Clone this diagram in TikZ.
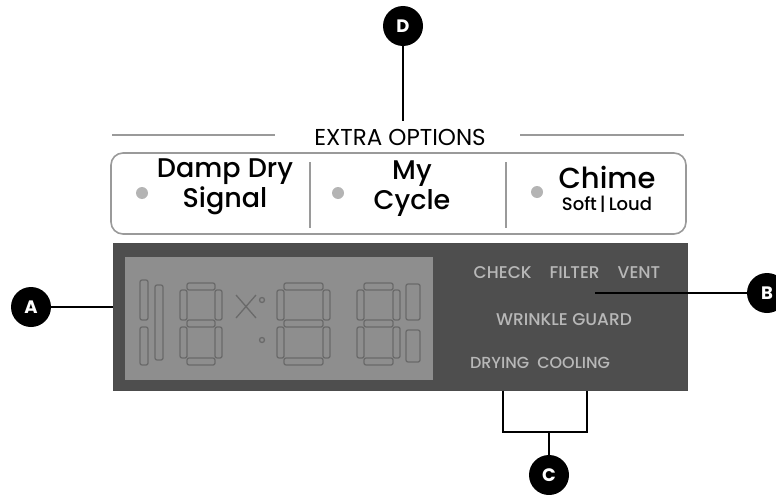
\documentclass[tikz,border=0pt]{standalone}
\usepackage{fontspec}
\setmainfont{Poppins}
\newfontfamily\popmed{Poppins Medium}
\usetikzlibrary{positioning}

\definecolor{rulegray}{HTML}{9A9A9A}
\definecolor{dotgray}{HTML}{B4B4B4}
\definecolor{panelgray}{HTML}{4E4E4E}
\definecolor{lcdgray}{HTML}{8E8E8E}
\definecolor{seggray}{HTML}{6A6A6A}
\definecolor{glowgray}{HTML}{B8B8B8}

\begin{document}
\begin{tikzpicture}[x=1pt, y=-1pt,
    callout/.style={circle,fill=black,text=white,minimum size=40pt,inner sep=0pt,font=\fontsize{18}{18}\selectfont\bfseries},
    lead/.style={draw=black,line width=1.4pt},
    optext/.style={align=center,inner sep=0pt,font=\popmed\fontsize{27}{30}\selectfont},
    lcdtext/.style={text=glowgray,inner sep=0pt,font=\popmed\fontsize{17}{17}\selectfont},
    seg/.style={draw=seggray,line width=1.3pt,rounded corners=2pt},
    led/.style={circle,fill=dotgray,minimum size=12pt,inner sep=0pt}]
  \useasboundingbox (0,0) rectangle (776,495);

  % option bar
  \node[draw=rulegray,line width=1.6pt,rounded corners=12pt,minimum width=575pt,minimum height=81pt] (opts) at (398.5,193.5) {};
  \node[inner sep=0pt,font=\fontsize{23}{23}\selectfont] (extra) at (400,137) {EXTRA OPTIONS};
  \draw[rulegray,line width=2pt] (112,135) -- (275,135);
  \draw[rulegray,line width=2pt] (520,135) -- (684,135);
  \draw[rulegray,line width=1.6pt] (310,162) -- (310,228);
  \draw[rulegray,line width=1.6pt] (506,162) -- (506,228);
  \node[led] (ledone) at (142,193) {};
  \node[led] (ledtwo) at (338,193) {};
  \node[led] (ledthree) at (537,192) {};
  \node[optext] (damp) at (225,187) {Damp Dry\\Signal};
  \node[optext] (mycycle) at (412,189) {My\\Cycle};
  \node[optext,font=\popmed\fontsize{29}{29}\selectfont] (chime) at (607,177) {Chime};
  \node[inner sep=0pt,font=\popmed\fontsize{18}{18}\selectfont,below=7pt of chime] (soft) {Soft\,|\,Loud};

  % display
  \node[fill=panelgray,draw=black!70,line width=1pt,minimum width=574pt,minimum height=147pt,inner sep=0pt] (disp) at (400,316.5) {};
  \fill[lcdgray] (125,257) rectangle (433,380);
  % ghost segments
  \foreach \l/\r in {180/222, 277/330, 357/400}{
    \draw[seg] ({\l+7},283) rectangle ({\r-7},290);
    \draw[seg] ({\l+7},320) rectangle ({\r-7},327);
    \draw[seg] ({\l+7},358) rectangle ({\r-7},365);
    \draw[seg] (\l,290) rectangle ({\l+7},320);
    \draw[seg] ({\r-7},290) rectangle (\r,320);
    \draw[seg] (\l,327) rectangle ({\l+7},358);
    \draw[seg] ({\r-7},327) rectangle (\r,358);
  }
  \draw[seg] (140,280) rectangle (148,320);
  \draw[seg] (140,327) rectangle (148,365);
  \draw[seg] (155,285) rectangle (163,360);
  \draw[seg] (236,295) -- (256,318) (256,295) -- (236,318);
  \draw[seg] (262,300) circle (2.5) (262,340) circle (2.5);
  \draw[seg] (406,284) rectangle (420,320);
  \draw[seg] (406,330) rectangle (420,362);
  \node[lcdtext] (check) at (567,273) {CHECK\hspace{18pt}FILTER\hspace{18pt}VENT};
  \node[lcdtext] (wrinkle) at (564,320) {WRINKLE GUARD};
  \node[lcdtext,font=\popmed\fontsize{16}{16}\selectfont] (drying) at (540,363) {DRYING\hspace{8pt}COOLING};

  % callouts
  \node[callout] (calA) at (31,307) {A};
  \node[callout] (calB) at (767,293) {B};
  \node[callout] (calC) at (549,475) {C};
  \node[callout] (calD) at (403,26) {D};
  \coordinate (dtip) at (403,121);
  \coordinate (btip) at (595,293);
  \coordinate (cleft) at (503,432);
  \coordinate (cright) at (587,432);
  \path[lead] (calD) -- (dtip);
  \path[lead] (calA) -- (calA -| disp.west);
  \path[lead] (calB) -- (btip);
  \path[lead] (calC) -- (calC |- cleft);
  \path[lead] (cleft |- disp.south) -- (cleft) -- (cright) -- (cright |- disp.south);
\end{tikzpicture}
\end{document}
